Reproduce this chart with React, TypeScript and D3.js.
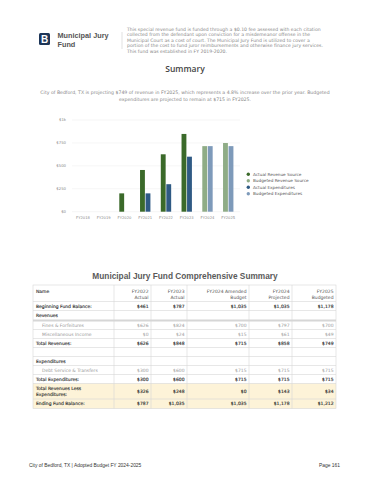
import React from 'react';
import { scaleBand, scaleLinear } from 'd3';

const years = ['FY2018', 'FY2019', 'FY2020', 'FY2021', 'FY2022', 'FY2023', 'FY2024', 'FY2025'];
const actualRevenue = [0, 0, 200, 455, 626, 848, 0, 0];
const budgetedRevenue = [0, 0, 0, 0, 0, 0, 715, 749];
const actualExpenditures = [0, 0, 0, 200, 300, 600, 0, 0];
const budgetedExpenditures = [0, 0, 0, 0, 0, 0, 715, 715];
const yTicks = [0, 250, 500, 750, 1000];
const yTickLabels = ['$0', '$250', '$500', '$750', '$1k'];
const legendLabels = ['Actual Revenue Source', 'Budgeted Revenue Source', 'Actual Expenditures', 'Budgeted Expenditures'];

const tableHead1 = ['FY2022', 'FY2023', 'FY2024 Amended', 'FY2024', 'FY2025'];
const tableHead2 = ['Actual', 'Actual', 'Budget', 'Projected', 'Budgeted'];
const rowNames = ['Beginning Fund Balance:', 'Revenues', 'Fines & Forfeitures', 'Miscellaneous Income', 'Total Revenues:', '', 'Expenditures', 'Debt Service & Transfers', 'Total Expenditures:', 'Total Revenues Less|Expenditures:', 'Ending Fund Balance:'];
const beginningBalance = ['$461', '$787', '$1,035', '$1,035', '$1,178'];
const finesForfeitures = ['$626', '$824', '$700', '$797', '$700'];
const miscIncome = ['$0', '$24', '$15', '$61', '$49'];
const totalRevenues = ['$626', '$848', '$715', '$858', '$749'];
const debtService = ['$300', '$600', '$715', '$715', '$715'];
const totalExpenditures = ['$300', '$600', '$715', '$715', '$715'];
const revLessExp = ['$326', '$248', '$0', '$143', '$34'];
const endingBalance = ['$787', '$1,035', '$1,035', '$1,178', '$1,212'];

const colors = ['#3b6a2a', '#8fac86', '#2f5a84', '#7e9aba'];

const App = () => {
    const sans = "'DejaVu Sans', sans-serif";
    const arial = "'Liberation Sans', Arial, sans-serif";

    let x = scaleBand<string>().domain(years).range([72.6, 238.6]).paddingInner(0.5).paddingOuter(0.25);
    let sub = scaleBand<string>().domain(['rev', 'exp']).range([0, x.bandwidth()]).paddingInner(0.12);
    let y = scaleLinear().domain([0, 1000]).range([211.7, 120]);

    const bars: Array<JSX.Element> = [];
    const series = [
        { vals: actualRevenue, slot: 'rev', c: colors[0] },
        { vals: budgetedRevenue, slot: 'rev', c: colors[1] },
        { vals: actualExpenditures, slot: 'exp', c: colors[2] },
        { vals: budgetedExpenditures, slot: 'exp', c: colors[3] },
    ];
    series.forEach((s, si) => {
        s.vals.forEach((v, i) => {
            if (!v) return;
            bars.push(<rect key={si + '-' + i} x={(x(years[i]) as number) + (sub(s.slot) as number)} y={y(v)} width={sub.bandwidth()} height={y(0) - y(v)} fill={s.c} />);
        });
    });

    // table layout
    const colX = [33, 114, 151, 187, 249, 292, 336];
    const rowTops = [301.5, 310.5, 320.5, 329.5, 338.5, 347.5, 356.5, 365.5, 374.5, 383.5, 399, 408.5];
    const rowVals = [beginningBalance, null, finesForfeitures, miscIncome, totalRevenues, null, null, debtService, totalExpenditures, revLessExp, endingBalance];
    const boldRows = [0, 1, 4, 6, 8, 9, 10];
    const subRows = [2, 3, 7];
    const tfs = 4.5;

    return (
        <div style={{ position: 'absolute', left: 0, top: 0 }}>
            <svg width={370} height={480} style={{ display: 'block', background: '#fff' }}>
                {/* header */}
                <rect x={39} y={33} width={11} height={12} rx={1.5} fill="#1d3557" />
                <text x={44.5} y={42.8} textAnchor="middle" fontFamily={arial} fontWeight="bold" fontSize={10} fill="#fff">B</text>
                <text x={57.5} y={38.3} fontFamily={arial} fontWeight="bold" fontSize={7.3} fill="#555">Municipal Jury</text>
                <text x={57.5} y={47.3} fontFamily={arial} fontWeight="bold" fontSize={7.3} fill="#555">Fund</text>
                <line x1={122} x2={122} y1={32} y2={49} stroke="#ccc" strokeWidth={0.6} />
                {['This special revenue fund is funded through a $0.10 fee assessed with each citation',
                  'collected from the defendant upon conviction for a misdemeanor offense in the',
                  'Municipal Court as a cost of court. The Municipal Jury Fund is utilized to cover a',
                  'portion of the cost to fund juror reimbursements and otherwise finance jury services.',
                  'This fund was established in FY 2019-2020.'].map((t, i) => (
                    <text key={i} x={127} y={30.5 + i * 5.5} fontFamily={sans} fontSize={4.6} fill="#888">{t}</text>
                ))}

                <text x={185} y={72} textAnchor="middle" fontFamily="'Open Sans', sans-serif" fontWeight={600} fontSize={8.5} fill="#444">Summary</text>
                <text x={185} y={94.3} textAnchor="middle" fontFamily={sans} fontSize={4.65} fill="#888">City of Bedford, TX is projecting $749 of revenue in FY2025, which represents a 4.8% increase over the prior year. Budgeted</text>
                <text x={185} y={100.8} textAnchor="middle" fontFamily={sans} fontSize={4.65} fill="#888">expenditures are projected to remain at $715 in FY2025.</text>

                {/* chart */}
                {yTicks.map((t, i) => (
                    <g key={t}>
                        <line x1={72} x2={240} y1={y(t)} y2={y(t)} stroke="#eee" strokeWidth={0.6} />
                        <text x={66} y={y(t) + 1.4} textAnchor="end" fontFamily={sans} fontSize={3.8} fill="#888">{yTickLabels[i]}</text>
                    </g>
                ))}
                {bars}
                {years.map(yr => (
                    <text key={yr} x={(x(yr) as number) + x.bandwidth() / 2} y={218.5} textAnchor="middle" fontFamily={sans} fontSize={3.7} fill="#888">{yr}</text>
                ))}
                {legendLabels.map((l, i) => (
                    <g key={l}>
                        <circle cx={248.3} cy={174.2 + i * 6.5} r={1.7} fill={colors[i]} />
                        <text x={253} y={175.7 + i * 6.5} fontFamily={sans} fontSize={4.2} fill="#555">{l}</text>
                    </g>
                ))}

                {/* table */}
                <text x={185} y={279} textAnchor="middle" fontFamily={arial} fontWeight="bold" fontSize={8.3} fill="#5a5a5a">Municipal Jury Fund Comprehensive Summary</text>
                <rect x={colX[0]} y={383.5} width={colX[6] - colX[0]} height={25} fill="#fdf3d8" />
                <rect x={colX[0]} y={285} width={colX[6] - colX[0]} height={123.5} fill="none" stroke="#d6d6d6" strokeWidth={0.6} />
                {colX.slice(1, 6).map(cx => (
                    <line key={cx} x1={cx} x2={cx} y1={285} y2={408.5} stroke="#d6d6d6" strokeWidth={0.6} />
                ))}
                {rowTops.slice(0, 11).map((t, i) => (
                    <line key={i} x1={colX[0]} x2={colX[6]} y1={t} y2={t} stroke="#d6d6d6" strokeWidth={i === 2 ? 1.8 : 0.6} />
                ))}
                <text x={36} y={292.5} fontFamily={sans} fontSize={tfs} fill="#333" stroke="#333" strokeWidth={0.12}>Name</text>
                {tableHead1.map((h, i) => (
                    <g key={h + i}>
                        <text x={colX[i + 2] - 2.5} y={292.5} textAnchor="end" fontFamily={sans} fontSize={tfs} fill="#555">{h}</text>
                        <text x={colX[i + 2] - 2.5} y={298.5} textAnchor="end" fontFamily={sans} fontSize={tfs} fill="#555">{tableHead2[i]}</text>
                    </g>
                ))}
                {rowNames.map((n, i) => {
                    const top = rowTops[i];
                    const bottom = rowTops[i + 1];
                    const mid = (top + bottom) / 2 + 1.6;
                    const bold = boldRows.indexOf(i) >= 0;
                    const indent = subRows.indexOf(i) >= 0;
                    const parts = n.split('|');
                    const fill = indent ? '#999' : '#333';
                    const strokeProps = bold ? { stroke: '#333', strokeWidth: 0.14 } : {};
                    return (
                        <g key={i}>
                            {parts.map((p, pi) => (
                                <text key={pi} x={indent ? 42 : 36} y={parts.length > 1 ? mid - 3.2 + pi * 6.4 : mid} fontFamily={sans} fontSize={tfs} fill={fill} {...strokeProps}>{p}</text>
                            ))}
                            {rowVals[i] && rowVals[i]!.map((v, vi) => (
                                <text key={vi} x={colX[vi + 2] - 2.5} y={mid} textAnchor="end" fontFamily={sans} fontSize={tfs} fill={fill} {...strokeProps}>{v}</text>
                            ))}
                        </g>
                    );
                })}

                {/* footer */}
                <text x={29} y={466.5} fontFamily={arial} fontSize={4.9} fill="#333">City of Bedford, TX | Adopted Budget FY 2024-2025</text>
                <text x={340} y={466.5} textAnchor="end" fontFamily={arial} fontSize={4.9} fill="#333">Page 161</text>
            </svg>
        </div>
    );
};

export default App;
